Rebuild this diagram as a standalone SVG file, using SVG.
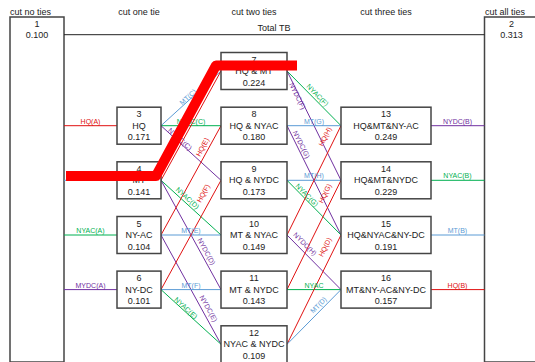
<svg xmlns="http://www.w3.org/2000/svg" width="535" height="362" viewBox="0 0 535 362">
<style>
text{font-family:"Liberation Sans",Arial,sans-serif;}
.hdr{font-size:9px;fill:#222;}
.box rect{fill:#fff;stroke:#444;stroke-width:1.5;}
.box text{font-size:9px;fill:#222;text-anchor:middle;}
.ln{fill:none;stroke-width:1;}
.r{stroke:#e01010;} .g{stroke:#00b050;} .b{stroke:#5b9bd5;} .p{stroke:#7030a0;}
.lb{font-size:7px;text-anchor:middle;}
.lr{fill:#e01010;} .lg{fill:#00b050;} .lbl{fill:#5b9bd5;} .lp{fill:#7030a0;}
.rot{dominant-baseline:central;}
</style>
<rect width="535" height="362" fill="#fff"/>
<text class="hdr" x="10" y="14.5">cut no ties</text>
<text class="hdr" x="139" y="14.5" text-anchor="middle">cut one tie</text>
<text class="hdr" x="254" y="14.5" text-anchor="middle">cut two ties</text>
<text class="hdr" x="386" y="14.5" text-anchor="middle">cut three ties</text>
<text class="hdr" x="485" y="14.5">cut all ties</text>

<g id="node1" class="box"><rect x="10" y="17" width="54" height="345"/><text x="37" y="27">1</text><text x="37" y="38">0.100</text></g>
<g id="node2" class="box"><rect x="484.5" y="17" width="54" height="345"/><text x="511.5" y="27">2</text><text x="511.5" y="38">0.313</text></g>

<g id="connectors">
<line class="ln" x1="64" y1="34.7" x2="484.5" y2="34.7" stroke="#222"/>
<text x="274" y="31" style="font-size:9px;fill:#222" text-anchor="middle">Total TB</text>
<!-- box1 to col1 -->
<line class="ln r" x1="64" y1="125.7" x2="117" y2="125.7"/>
<line class="ln b" x1="64" y1="180.3" x2="117" y2="180.3"/>
<line class="ln g" x1="64" y1="235" x2="117" y2="235"/>
<line class="ln p" x1="64" y1="289.6" x2="117" y2="289.6"/>
<text class="lb lr" x="90.5" y="123.7">HQ(A)</text>
<text class="lb lg" x="90.5" y="233">NYAC(A)</text>
<text class="lb lp" x="90.5" y="287.6">MYDC(A)</text>
<!-- col1 to col2 -->
<line class="ln b" x1="161" y1="125.7" x2="221" y2="71"/>
<line class="ln g" x1="161" y1="125.7" x2="221" y2="125.7"/>
<line class="ln p" x1="161" y1="125.7" x2="221" y2="180.3"/>
<line class="ln r" x1="161" y1="180.3" x2="221" y2="71"/>
<line class="ln g" x1="161" y1="180.3" x2="221" y2="235"/>
<line class="ln p" x1="161" y1="180.3" x2="221" y2="289.6"/>
<line class="ln r" x1="161" y1="235" x2="221" y2="125.7"/>
<line class="ln b" x1="161" y1="235" x2="221" y2="235"/>
<line class="ln p" x1="161" y1="235" x2="221" y2="344.3"/>
<line class="ln r" x1="161" y1="289.6" x2="221" y2="180.3"/>
<line class="ln b" x1="161" y1="289.6" x2="221" y2="289.6"/>
<line class="ln g" x1="161" y1="289.6" x2="221" y2="344.3"/>
<text class="lb lbl rot" x="188" y="97" transform="rotate(-42.3 188 97)">MT(C)</text>
<text class="lb lg" x="191" y="123.7">NYAC(C)</text>
<text class="lb lp rot" x="180" y="139" transform="rotate(42.3 180 139)">NYDC(C)</text>
<text class="lb lg rot" x="187.5" y="198" transform="rotate(42.3 187.5 198)">NYAC(D)</text>
<text class="lb lp rot" x="206.5" y="251.5" transform="rotate(61.2 206.5 251.5)">NYDC(D)</text>
<text class="lb lr rot" x="202.5" y="147" transform="rotate(-61.2 202.5 147)">HQ(E)</text>
<text class="lb lbl" x="191" y="233">MT(E)</text>
<text class="lb lp rot" x="208.5" y="308.5" transform="rotate(61.2 208.5 308.5)">NYDC(E)</text>
<text class="lb lr rot" x="203.3" y="193.3" transform="rotate(-61.2 203.3 193.3)">HQ(F)</text>
<text class="lb lbl" x="191" y="287.6">MT(F)</text>
<text class="lb lg rot" x="186" y="308" transform="rotate(42.3 186 308)">NYAC(E)</text>
<!-- col2 to col3 -->
<line class="ln g" x1="287" y1="71" x2="341" y2="125.7"/>
<line class="ln p" x1="287" y1="71" x2="341" y2="180.3"/>
<line class="ln b" x1="287" y1="125.7" x2="341" y2="125.7"/>
<line class="ln p" x1="287" y1="125.7" x2="341" y2="235"/>
<line class="ln b" x1="287" y1="180.3" x2="341" y2="180.3"/>
<line class="ln g" x1="287" y1="180.3" x2="341" y2="235"/>
<line class="ln r" x1="287" y1="235" x2="341" y2="125.7"/>
<line class="ln p" x1="287" y1="235" x2="341" y2="289.6"/>
<line class="ln r" x1="287" y1="289.6" x2="341" y2="180.3"/>
<line class="ln g" x1="287" y1="289.6" x2="341" y2="289.6"/>
<line class="ln r" x1="287" y1="344.3" x2="341" y2="235"/>
<line class="ln b" x1="287" y1="344.3" x2="341" y2="289.6"/>
<text class="lb lg rot" x="317.5" y="95" transform="rotate(45.3 317.5 95)">NYAC(F)</text>
<text class="lb lp rot" x="297.5" y="96" transform="rotate(63.7 297.5 96)">NYDC(F)</text>
<text class="lb lbl" x="314" y="123.7">MT(G)</text>
<text class="lb lp rot" x="301.5" y="144.5" transform="rotate(63.7 301.5 144.5)">NYDC(G)</text>
<text class="lb lr rot" x="325" y="136.5" transform="rotate(-63.7 325 136.5)">HQ(H)</text>
<text class="lb lbl" x="314" y="178.3">MT(H)</text>
<text class="lb lg rot" x="307" y="195" transform="rotate(45.3 307 195)">NYAC(G)</text>
<text class="lb lr rot" x="325" y="193.5" transform="rotate(-63.7 325 193.5)">HQ(G)</text>
<text class="lb lp rot" x="305" y="244" transform="rotate(45.3 305 244)">NYDC(H)</text>
<text class="lb lr rot" x="325" y="247" transform="rotate(-63.7 325 247)">HQ(D)</text>
<text class="lb lg" x="314" y="287.6">NYAC</text>
<text class="lb lbl rot" x="318.5" y="305" transform="rotate(-45.3 318.5 305)">MT(D)</text>
<!-- col3 to box2 -->
<line class="ln p" x1="431" y1="125.7" x2="484.5" y2="125.7"/>
<line class="ln g" x1="431" y1="180.3" x2="484.5" y2="180.3"/>
<line class="ln b" x1="431" y1="235" x2="484.5" y2="235"/>
<line class="ln r" x1="431" y1="289.6" x2="484.5" y2="289.6"/>
<text class="lb lp" x="457.5" y="123.7">NYDC(B)</text>
<text class="lb lg" x="457.5" y="178.3">NYAC(B)</text>
<text class="lb lbl" x="457.5" y="233">MT(B)</text>
<text class="lb lr" x="457.5" y="287.6">HQ(B)</text>
</g>

<g id="node3" class="box"><rect x="117" y="107.2" width="44" height="37"/><text x="139" y="117.2">3</text><text x="139" y="128.7">HQ</text><text x="139" y="140.2">0.171</text></g>
<g id="node4" class="box"><rect x="117" y="161.8" width="44" height="37"/><text x="139" y="171.8">4</text><text x="139" y="183.3">MT</text><text x="139" y="194.8">0.141</text></g>
<g id="node5" class="box"><rect x="117" y="216.5" width="44" height="37"/><text x="139" y="226.5">5</text><text x="139" y="238">NY-AC</text><text x="139" y="249.5">0.104</text></g>
<g id="node6" class="box"><rect x="117" y="271.1" width="44" height="37"/><text x="139" y="281.1">6</text><text x="139" y="292.6">NY-DC</text><text x="139" y="304.1">0.101</text></g>

<g id="node7" class="box"><rect x="221" y="52.5" width="66" height="37"/><text x="254" y="62.5">7</text><text x="254" y="74">HQ &amp; MT</text><text x="254" y="85.5">0.224</text></g>
<g id="node8" class="box"><rect x="221" y="107.2" width="66" height="37"/><text x="254" y="117.2">8</text><text x="254" y="128.7">HQ &amp; NYAC</text><text x="254" y="140.2">0.180</text></g>
<g id="node9" class="box"><rect x="221" y="161.8" width="66" height="37"/><text x="254" y="171.8">9</text><text x="254" y="183.3">HQ &amp; NYDC</text><text x="254" y="194.8">0.173</text></g>
<g id="node10" class="box"><rect x="221" y="216.5" width="66" height="37"/><text x="254" y="226.5">10</text><text x="254" y="238">MT &amp; NYAC</text><text x="254" y="249.5">0.149</text></g>
<g id="node11" class="box"><rect x="221" y="271.1" width="66" height="37"/><text x="254" y="281.1">11</text><text x="254" y="292.6">MT &amp; NYDC</text><text x="254" y="304.1">0.143</text></g>
<g id="node12" class="box"><rect x="221" y="325.8" width="66" height="37"/><text x="254" y="335.8">12</text><text x="254" y="347.3">NYAC &amp; NYDC</text><text x="254" y="358.8">0.109</text></g>

<g id="node13" class="box"><rect x="341" y="107.2" width="90" height="37"/><text x="386" y="117.2">13</text><text x="386" y="128.7">HQ&amp;MT&amp;NY-AC</text><text x="386" y="140.2">0.249</text></g>
<g id="node14" class="box"><rect x="341" y="161.8" width="90" height="37"/><text x="386" y="171.8">14</text><text x="386" y="183.3">HQ&amp;MT&amp;NYDC</text><text x="386" y="194.8">0.229</text></g>
<g id="node15" class="box"><rect x="341" y="216.5" width="90" height="37"/><text x="386" y="226.5">15</text><text x="386" y="238">HQ&amp;NYAC&amp;NY-DC</text><text x="386" y="249.5">0.191</text></g>
<g id="node16" class="box"><rect x="341" y="271.1" width="90" height="37"/><text x="386" y="281.1">16</text><text x="386" y="292.6">MT&amp;NY-AC&amp;NY-DC</text><text x="386" y="304.1">0.157</text></g>

<path id="highlight" d="M66 176 L156 176 L216 65.5 L297 65.5" fill="none" stroke="#ff0000" stroke-width="10" stroke-linejoin="round"/>
</svg>
